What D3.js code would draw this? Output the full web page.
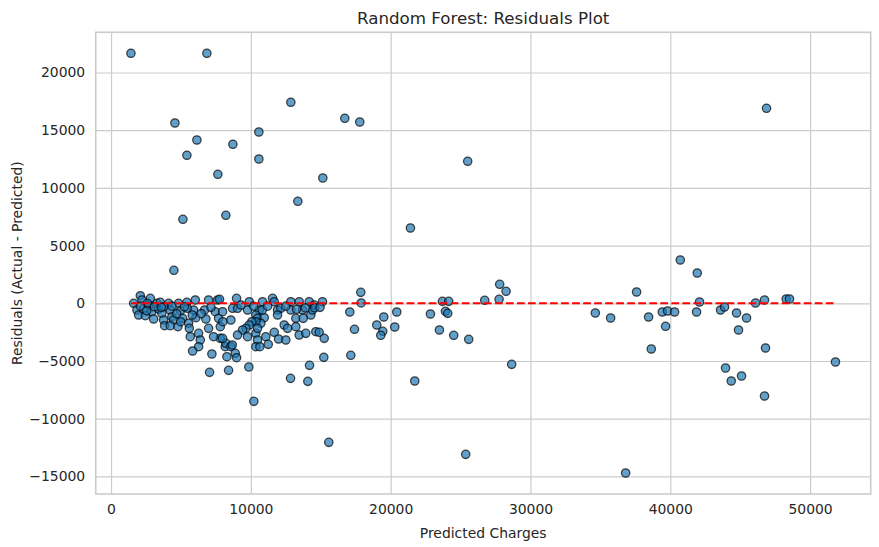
<!DOCTYPE html>
<html>
<head>
<meta charset="utf-8">
<script src="https://cdn.jsdelivr.net/npm/d3@7"></script>
<style>
  html, body { margin: 0; padding: 0; background: #ffffff; }
  svg { display: block; }
  text { font-family: "DejaVu Sans", sans-serif; }
</style>
</head>
<body>
<div id="chart"></div>
<script>
// ---- Data ----
const predicted = [
  1422, 6855, 12859, 16719, 17791, 4568, 10572, 6140, 8713, 5425, 10572, 7641, 15147, 13360, 8213, 5139, 4496, 25511, 21415, 46883,
  40715, 41930, 37590, 34639, 35733, 38449, 38642, 39428, 39807, 40308, 39664, 42094, 41880, 43595, 43881, 44739, 45454, 44882, 46097, 46740,
  46812, 43953, 45097, 44361, 46740, 48291, 48527, 51816, 36805,
  17863, 17892, 17077, 17413, 17148, 19507, 19006, 19435, 19292, 20436, 20293, 21723, 22845, 23703, 24153, 23917, 24082, 23488, 24510, 25582,
  26726, 27756, 27798, 28256, 28656, 25368, 15575,
  10214, 7048, 8406, 9857, 14196, 12838, 14074, 15218,
  1615, 2094, 2209, 1851, 1973, 2330, 2452, 2688, 2924, 3045, 3281, 3402, 3638, 3760, 3831, 4117, 4239, 4353, 4475, 4239,
  4782, 4832, 4954, 5118, 5425, 5547, 5597, 5668, 5904, 6026, 6069, 6262, 6383, 6262, 5833, 6690, 6783, 6976, 7212, 7455,
  7620, 7691, 7813, 7813, 8170, 8285, 7334, 6976, 2809, 3524, 5454, 5811, 4975, 2595, 3781,
  8978, 8692, 9049, 8571, 7977, 9886, 9764, 10836, 10600, 10357, 10479, 10958, 10715, 10357, 10071, 9886, 9643, 9407, 9049, 10357,
  10479, 9764, 10479, 10357, 10643, 11072, 11673, 11980, 12502, 11551, 11673, 11909, 12145, 11909, 12859, 12859, 13460, 13696, 13217, 13746,
  14289, 14410, 12387, 12623, 13217, 13460, 13932, 14646, 14889, 15247, 8213, 8571, 8885, 8978, 7977, 14174, 15125, 14532, 14575, 13267,
  10815, 11244, 8671, 7763, 7998,
  2100, 2550, 3100, 3600, 4350, 4700, 5250, 6450, 7150, 9300, 10200, 11200, 12500, 13900, 14950
];
const residuals = [
  21665, 21665, 17419, 16032, 15712, 15625, 14845, 14152, 13779, 12826, 12505, 11179, 10858, 8839, 7626, 7279, 2860, 12306, 6525, 16899,
  3752, 2626, 979, -841, -1274, -1187, -3960, -754, -667, -754, -1993, 113, -754, -581, -321, -841, -1274, -2314, 26, 286,
  -3874, -5607, -6300, -6733, -8033, 373, 373, -5087, -14706,
  953, 30, -754, -2253, -4506, -1187, -1881, -2426, -2773, -754, -2054, -6733, -927, 173, 173, -693, -867, -2314, -2773, -3120,
  260, 347, 1647, 1040, -5286, -13086, -12046,
  -8493, -5980, -5806, -5520, -5373, -6500, -6760, -4680,
  0, 659, 286, -581, -1014, -494, -1075, -147, -728, -1361, 0, -494, -867, -1447, -1941, 0, -581, -1161, -1447, -1941,
  -2028, 0, -667, -1300, 87, -1733, -2167, -2894, -581, 286, -1248, -2600, -3180, -3761, -4134, -581, -1361, -2167, -4394, -728,
  286, -1300, -2028, -3033, -3761, -4628, -2894, 286, 433, 87, -433, -1014, -1594, 0, -295,
  433, -433, -433, -1447, -728, 139, -581, 139, -581, -1014, -1300, -1248, -1733, -1594, -1594, -1881, -2167, -2314, -2747, -2600,
  -2167, -2894, -3180, -3761, -3761, -2894, -2513, -3094, -3180, 433, 139, -581, -433, -1014, 139, -581, 139, -581, -1300, -1300,
  -1014, -581, -1881, -2167, -2028, -2747, -2600, -2461, -2513, -3033, -3466, -3761, -4333, -4714, -3033, 139, 139, -147, -381, -520,
  -581, -3553, -3614, 347, -1594,
  -250, -650, -300, -350, -250, -900, -300, -900, -350, -150, -250, -250, -250, -400, -350
];
const xTicks = [0, 10000, 20000, 30000, 40000, 50000];
const xTickLabels = ["0", "10000", "20000", "30000", "40000", "50000"];
const yTicks = [-15000, -10000, -5000, 0, 5000, 10000, 15000, 20000];
const yTickLabels = ["\u221215000", "\u221210000", "\u22125000", "0", "5000", "10000", "15000", "20000"];
const titleText = "Random Forest: Residuals Plot";
const xLabelText = "Predicted Charges";
const yLabelText = "Residuals (Actual - Predicted)";

// ---- Layout ----
const W = 879, H = 547;
const L = 95.7, R = 870.7, T = 32.3, B = 494;
const pw = R - L, ph = B - T;

const points = predicted.map((p, i) => ({ x: p, y: residuals[i] }));

function padded(ext) {
  const m = (ext[1] - ext[0]) * 0.05;
  return [ext[0] - m, ext[1] + m];
}
const xExt = d3.extent(predicted);
const yExt = d3.extent(residuals);
const x = d3.scaleLinear().domain(padded(xExt)).range([0, pw]);
const y = d3.scaleLinear().domain(padded(yExt)).range([ph, 0]);

const svg = d3.select("#chart").append("svg")
  .attr("width", W).attr("height", H)
  .attr("viewBox", `0 0 ${W} ${H}`);

svg.append("rect").attr("width", W).attr("height", H).attr("fill", "#ffffff");

const g = svg.append("g").attr("transform", `translate(${L},${T})`);

// Grid + tick labels via axes
const xAxis = d3.axisBottom(x)
  .tickValues(xTicks)
  .tickFormat((d, i) => xTickLabels[i])
  .tickSize(-ph)
  .tickPadding(9.7);
const yAxis = d3.axisLeft(y)
  .tickValues(yTicks)
  .tickFormat((d, i) => yTickLabels[i])
  .tickSize(-pw)
  .tickPadding(10.5);

const gx = g.append("g").attr("transform", `translate(0,${ph})`).call(xAxis);
const gy = g.append("g").call(yAxis);
[gx, gy].forEach(a => {
  a.select(".domain").remove();
  a.selectAll(".tick line").attr("stroke", "#cccccc").attr("stroke-width", 1.2);
  a.selectAll(".tick text")
    .attr("fill", "#262626")
    .style("font-size", "13.9px")
    .style("font-family", "'DejaVu Sans', sans-serif");
});

// Scatter points
g.append("g").selectAll("circle")
  .data(points)
  .join("circle")
  .attr("cx", d => x(d.x))
  .attr("cy", d => y(d.y))
  .attr("r", 4.17)
  .attr("fill", "#1f77b4")
  .attr("fill-opacity", 0.7)
  .attr("stroke", "#000000")
  .attr("stroke-opacity", 0.7)
  .attr("stroke-width", 1.3);

// Zero reference line (from min to max predicted)
g.append("line")
  .attr("x1", x(xExt[0])).attr("x2", x(xExt[1]))
  .attr("y1", y(0)).attr("y2", y(0))
  .attr("stroke", "#ff0000")
  .attr("stroke-width", 2.08)
  .attr("stroke-dasharray", "7.7,3.33");

// Spines
g.append("rect")
  .attr("x", 0).attr("y", 0).attr("width", pw).attr("height", ph)
  .attr("fill", "none").attr("stroke", "#cccccc").attr("stroke-width", 1.6);

// Title and axis labels
svg.append("text")
  .attr("x", L + pw / 2).attr("y", 24)
  .attr("text-anchor", "middle")
  .attr("fill", "#262626")
  .style("font-size", "16.7px")
  .text(titleText);

svg.append("text")
  .attr("x", L + pw / 2).attr("y", 538)
  .attr("text-anchor", "middle")
  .attr("fill", "#262626")
  .style("font-size", "13.9px")
  .text(xLabelText);

svg.append("text")
  .attr("transform", `translate(21.5,${T + ph / 2}) rotate(-90)`)
  .attr("text-anchor", "middle")
  .attr("fill", "#262626")
  .style("font-size", "13.9px")
  .text(yLabelText);
</script>
</body>
</html>
